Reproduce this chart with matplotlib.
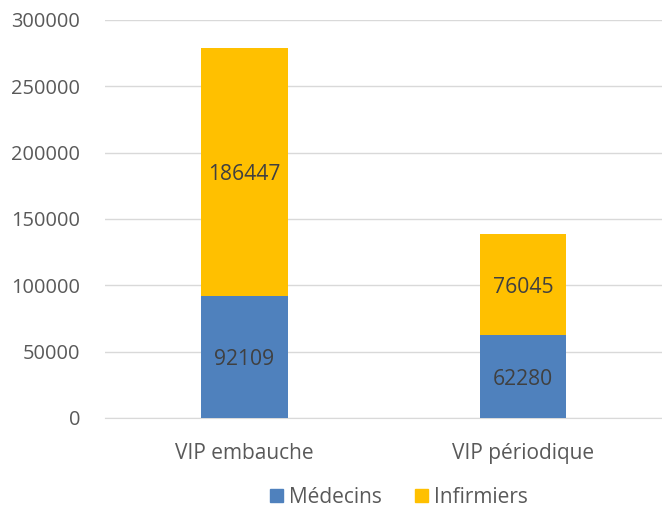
import matplotlib
matplotlib.use("Agg")
import matplotlib.pyplot as plt
from matplotlib.patches import Patch

categories = ["VIP embauche", "VIP périodique"]
medecins = [92109, 62280]
infirmiers = [186447, 76045]
yticks = [0, 50000, 100000, 150000, 200000, 250000, 300000]

plt.rcParams['font.family'] = ['Open Sans', 'DejaVu Sans']
fig = plt.figure(figsize=(6.62, 5.11), dpi=100)
ax = fig.add_axes([0.159, 0.182, 0.841, 0.779])

blue = "#4F81BD"
yellow = "#FFC000"
x = list(range(len(categories)))
w = 0.31
ax.bar(x, medecins, w, color=blue, zorder=3)
ax.bar(x, infirmiers, w, bottom=medecins, color=yellow, zorder=3)
for i in x:
    ax.text(i, medecins[i] / 2, str(medecins[i]), ha='center', va='center_baseline', fontsize=15.2, color='#404040', zorder=4)
    ax.text(i, medecins[i] + infirmiers[i] / 2, str(infirmiers[i]), ha='center', va='center_baseline', fontsize=15.2, color='#404040', zorder=4)

ax.set_xlim(-0.5, 1.5)
ax.set_ylim(0, 300000)
ax.set_yticks(yticks)
ax.set_yticklabels([str(t) for t in yticks])
ax.set_xticks(x)
ax.set_xticklabels(categories)
ax.tick_params(axis='y', length=0, labelsize=14.4, colors='#595959', pad=18)
ax.tick_params(axis='x', length=0, labelsize=15, colors='#595959', pad=18)
ax.yaxis.grid(True, color='#D9D9D9', linewidth=1, zorder=0)
for s in ['top', 'right', 'left']:
    ax.spines[s].set_visible(False)
ax.spines['bottom'].set_color('#D9D9D9')

handles = [Patch(color=blue, label='Médecins'), Patch(color=yellow, label='Infirmiers')]
fig.legend(handles=handles, loc='center', bbox_to_anchor=(0.603, 0.027), ncol=2, frameon=False,
           fontsize=15, handlelength=0.6, handleheight=0.6, columnspacing=1.6, handletextpad=0.3,
           labelcolor='#595959')

fig.savefig("out.png", dpi=100)
